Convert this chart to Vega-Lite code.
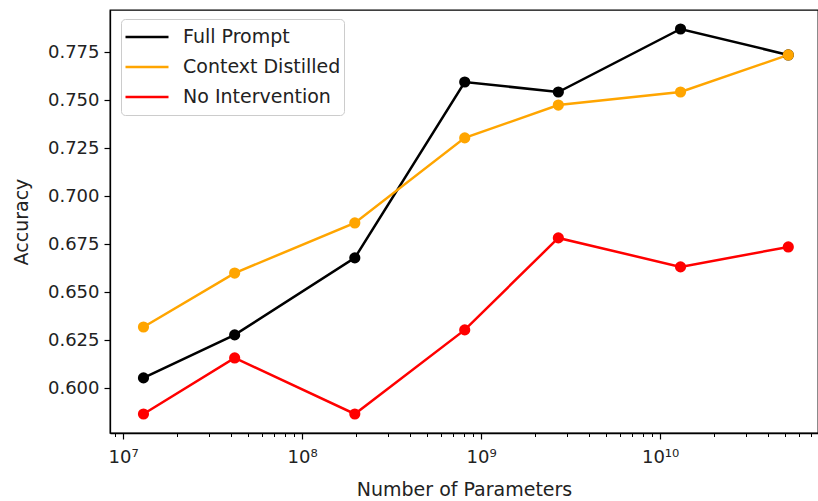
{
  "$schema": "https://vega.github.io/schema/vega-lite/v6.json",
  "width": 708,
  "height": 423,
  "autosize": "none",
  "padding": {"left": 110, "top": 10, "right": 0, "bottom": 68},
  "background": "white",
  "config": {
    "font": "DejaVu Sans",
    "view": {"stroke": "black", "strokeWidth": 1.3},
    "axis": {
      "grid": false,
      "domainColor": "black",
      "domainWidth": 1.3,
      "tickColor": "black",
      "tickWidth": 1.2,
      "labelColor": "#222",
      "titleColor": "#222",
      "labelFont": "DejaVu Sans",
      "titleFont": "DejaVu Sans",
      "titleFontWeight": "normal"
    }
  },
  "data": {
    "values": [
      {"params": 1.3e7, "accuracy": 0.6054, "series": "Full Prompt"},
      {"params": 4.2e7, "accuracy": 0.6278, "series": "Full Prompt"},
      {"params": 1.97e8, "accuracy": 0.6679, "series": "Full Prompt"},
      {"params": 8.1e8, "accuracy": 0.7595, "series": "Full Prompt"},
      {"params": 2.7e9, "accuracy": 0.7543, "series": "Full Prompt"},
      {"params": 1.3e10, "accuracy": 0.7871, "series": "Full Prompt"},
      {"params": 5.2e10, "accuracy": 0.7736, "series": "Full Prompt"},
      {"params": 1.3e7, "accuracy": 0.6319, "series": "Context Distilled"},
      {"params": 4.2e7, "accuracy": 0.6600, "series": "Context Distilled"},
      {"params": 1.97e8, "accuracy": 0.6861, "series": "Context Distilled"},
      {"params": 8.1e8, "accuracy": 0.7304, "series": "Context Distilled"},
      {"params": 2.7e9, "accuracy": 0.7475, "series": "Context Distilled"},
      {"params": 1.3e10, "accuracy": 0.7543, "series": "Context Distilled"},
      {"params": 5.2e10, "accuracy": 0.7736, "series": "Context Distilled"},
      {"params": 1.3e7, "accuracy": 0.5866, "series": "No Intervention"},
      {"params": 4.2e7, "accuracy": 0.6158, "series": "No Intervention"},
      {"params": 1.97e8, "accuracy": 0.5866, "series": "No Intervention"},
      {"params": 8.1e8, "accuracy": 0.6304, "series": "No Intervention"},
      {"params": 2.7e9, "accuracy": 0.6783, "series": "No Intervention"},
      {"params": 1.3e10, "accuracy": 0.6632, "series": "No Intervention"},
      {"params": 5.2e10, "accuracy": 0.6736, "series": "No Intervention"}
    ]
  },
  "resolve": {"axis": {"x": "independent"}},
  "layer": [
    {
      "mark": {"type": "line", "strokeWidth": 2.5},
      "encoding": {
        "x": {
          "field": "params",
          "type": "quantitative",
          "scale": {"type": "log", "domain": [8.45e6, 7.62e10], "nice": false},
          "axis": {
            "orient": "bottom",
            "values": [1e7, 1e8, 1e9, 1e10],
            "labelExpr": "datum.value < 5e7 ? '10⁷' : datum.value < 5e8 ? '10⁸' : datum.value < 5e9 ? '10⁹' : '10¹⁰'",
            "labelFontSize": 18,
            "labelPadding": 9,
            "tickSize": 6,
            "title": "Number of Parameters",
            "titleFontSize": 19,
            "titlePadding": 14
          }
        },
        "y": {
          "field": "accuracy",
          "type": "quantitative",
          "scale": {"domain": [0.5767, 0.797], "nice": false, "zero": false},
          "axis": {
            "values": [0.6, 0.625, 0.65, 0.675, 0.7, 0.725, 0.75, 0.775],
            "format": ".3f",
            "labelFontSize": 18,
            "labelPadding": 5,
            "tickSize": 6,
            "title": "Accuracy",
            "titleFontSize": 19,
            "titlePadding": 16
          }
        },
        "color": {
          "field": "series",
          "type": "nominal",
          "scale": {
            "domain": ["Full Prompt", "Context Distilled", "No Intervention"],
            "range": ["#000000", "#FFA500", "#FF0000"]
          },
          "legend": {
            "title": null,
            "orient": "none",
            "legendX": 11,
            "legendY": 9,
            "symbolType": "stroke",
            "symbolSize": 1849,
            "symbolStrokeWidth": 2.5,
            "clipHeight": 30,
            "labelFontSize": 19,
            "labelColor": "#222",
            "labelOffset": 13,
            "padding": 3,
            "rowPadding": 0,
            "strokeColor": "#cccccc",
            "fillColor": "rgba(255,255,255,0.85)",
            "cornerRadius": 4
          }
        }
      }
    },
    {
      "mark": {"type": "point", "filled": true, "opacity": 1, "size": 125},
      "encoding": {
        "x": {
          "field": "params",
          "type": "quantitative",
          "scale": {"type": "log", "domain": [8.45e6, 7.62e10], "nice": false},
          "axis": {
            "orient": "bottom",
            "values": [9e6, 2e7, 3e7, 4e7, 5e7, 6e7, 7e7, 8e7, 9e7, 2e8, 3e8, 4e8, 5e8, 6e8, 7e8, 8e8, 9e8, 2e9, 3e9, 4e9, 5e9, 6e9, 7e9, 8e9, 9e9, 2e10, 3e10, 4e10, 5e10, 6e10, 7e10],
            "labels": false,
            "domain": false,
            "tickSize": 3.5,
            "tickWidth": 1,
            "title": null
          }
        },
        "y": {"field": "accuracy", "type": "quantitative"},
        "color": {"field": "series", "type": "nominal", "legend": null}
      }
    }
  ]
}
